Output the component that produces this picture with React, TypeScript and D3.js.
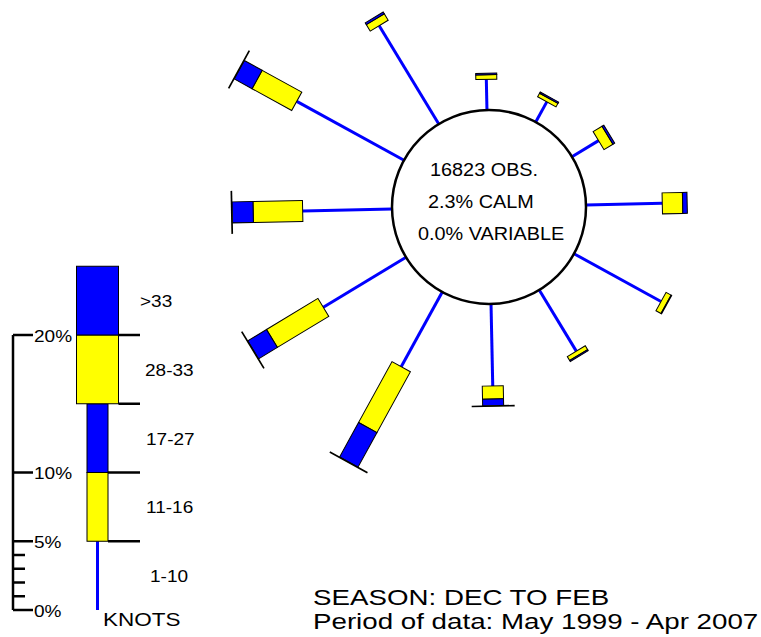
import React from "react";
import * as d3 from "d3";

// ---- Data ----
const directions = [0, 30, 60, 90, 120, 150, 180, 210, 240, 270, 300, 330];
const speed1to10 = [2.23, 1.67, 2.26, 5.55, 7.22, 5.2, 5.96, 6.2, 7.03, 6.5, 8.9, 8.36];
const speed11to16 = [0.33, 0.3, 0.76, 1.48, 0.42, 0.33, 0.95, 5.05, 4.37, 3.6, 3.29, 0.55];
const speed17to27 = [0.11, 0.1, 0.15, 0.33, 0.05, 0.09, 0.49, 2.86, 1.6, 1.53, 1.48, 0.15];
const speed28to33 = [0, 0, 0, 0, 0, 0, 0.05, 0.05, 0.05, 0.05, 0.05, 0];
const speedOver33 = [0, 0, 0, 0, 0, 0, 0, 0, 0, 0, 0, 0];

const speedLabels = ["1-10", "11-16", "17-27", "28-33", ">33"];
const legendTicks = [0, 5, 10, 20];
const legendMinorTicks = [1, 2, 3, 4];
const legendSegmentTicks = [5, 10, 15, 20];

const centerLines = ["16823 OBS.", "2.3% CALM", "0.0% VARIABLE"];
const titleLines = ["SEASON: DEC TO FEB", "Period of data: May 1999 - Apr 2007"];

// ---- Style ----
const BLUE = "#0000ff";
const YELLOW = "#ffff00";
const FONT = "'Liberation Sans', Arial, Helvetica, sans-serif";
const segColors = [YELLOW, BLUE, YELLOW, BLUE];
const segWidths = [21, 21, 42, 42];

const cx = 489;
const cy = 207;
const r0 = 97;
const rotOffset = -1.2;
const pxPerPct = 13.75;

export default function App() {
  const len = d3.scaleLinear().domain([0, 1]).range([0, pxPerPct]);

  const bars = directions.map((dir, i) => {
    const segVals = [speed11to16[i], speed17to27[i], speed28to33[i], speedOver33[i]];
    const lineEnd = r0 + len(speed1to10[i]);
    let acc = lineEnd;
    const segs = segVals.map((v, j) => {
      const s = acc;
      acc += len(v);
      return { s, e: acc, v, j };
    });
    return { dir, lineEnd, segs };
  });

  // legend scale
  const yL = d3.scaleLinear().domain([0, 25]).range([610, 610 - 25 * pxPerPct]);
  const legX = 97.5;
  const legendSegs = [0, 1, 2, 3].map((j) => ({
    j,
    y0: yL(5 * (j + 1)),
    y1: yL(5 * (j + 2)),
  }));
  const labelYs = [0, 1, 2, 3, 4].map((j) => yL(5 * j + 2.5));

  return (
    <svg
      width={761}
      height={637}
      style={{ position: "absolute", left: 0, top: 0, background: "#fff" }}
      fontFamily={FONT}
    >
      <rect x={0} y={0} width={761} height={637} fill="#fff" />
      {/* Rose bars */}
      {bars.map((b) => (
        <g key={b.dir} transform={`translate(${cx},${cy}) rotate(${b.dir + rotOffset})`}>
          <line x1={0} x2={0} y1={-r0} y2={-b.lineEnd} stroke={BLUE} strokeWidth={3} />
          {b.segs
            .filter((s) => s.v > 0)
            .map((s) => (
              <rect
                key={s.j}
                x={-segWidths[s.j] / 2}
                y={-s.e}
                width={segWidths[s.j]}
                height={s.e - s.s}
                fill={segColors[s.j]}
                stroke="#000"
                strokeWidth={1}
              />
            ))}
        </g>
      ))}
      <circle cx={cx} cy={cy} r={r0} fill="#fff" stroke="#000" strokeWidth={2.5} />
      {centerLines.map((t, i) => (
        <text
          key={t}
          x={0}
          y={0}
          fontSize={19}
          fill="#000"
          transform={`translate(${[430, 428, 418][i]},${176 + i * 31.8}) scale(1.045,1)`}
        >
          {t}
        </text>
      ))}

      {/* Legend axis */}
      <line x1={13} x2={13} y1={yL(20)} y2={yL(0)} stroke="#000" strokeWidth={2.5} />
      {legendTicks.map((t) => (
        <line key={t} x1={13} x2={33} y1={yL(t)} y2={yL(t)} stroke="#000" strokeWidth={2.5} />
      ))}
      {legendMinorTicks.map((t) => (
        <line key={t} x1={13} x2={25} y1={yL(t)} y2={yL(t)} stroke="#000" strokeWidth={2.5} />
      ))}
      {legendTicks.map((t) => (
        <text key={t} x={0} y={0} fontSize={17} transform={`translate(34,${yL(t) + 6.5}) scale(1.12,1)`}>
          {t}%
        </text>
      ))}
      {/* Legend bar */}
      <line x1={legX} x2={legX} y1={yL(0)} y2={yL(5)} stroke={BLUE} strokeWidth={3} />
      {legendSegs.map((s) => (
        <rect
          key={s.j}
          x={legX - segWidths[s.j] / 2}
          y={s.y1}
          width={segWidths[s.j]}
          height={s.y0 - s.y1}
          fill={segColors[s.j]}
          stroke="#000"
          strokeWidth={1}
        />
      ))}
      {legendSegmentTicks.map((t, i) => (
        <line
          key={t}
          x1={legX + segWidths[i < 2 ? 0 : 2] / 2}
          x2={140}
          y1={yL(t)}
          y2={yL(t)}
          stroke="#000"
          strokeWidth={2.5}
        />
      ))}
      {speedLabels.map((l, i) => (
        <text
          key={l}
          x={0}
          y={0}
          fontSize={17}
          transform={`translate(${[150, 146, 146, 145, 140][i]},${labelYs[i] + 6.5}) scale(1.12,1)`}
        >
          {l}
        </text>
      ))}
      <text x={0} y={0} fontSize={18} transform="translate(103,626) scale(1.25,1)">
        KNOTS
      </text>

      {/* Title */}
      {titleLines.map((t, i) => (
        <text key={t} x={0} y={0} fontSize={22} transform={`translate(313,${604.5 + i * 24.3}) scale(1.26,1)`}>
          {t}
        </text>
      ))}
    </svg>
  );
}
